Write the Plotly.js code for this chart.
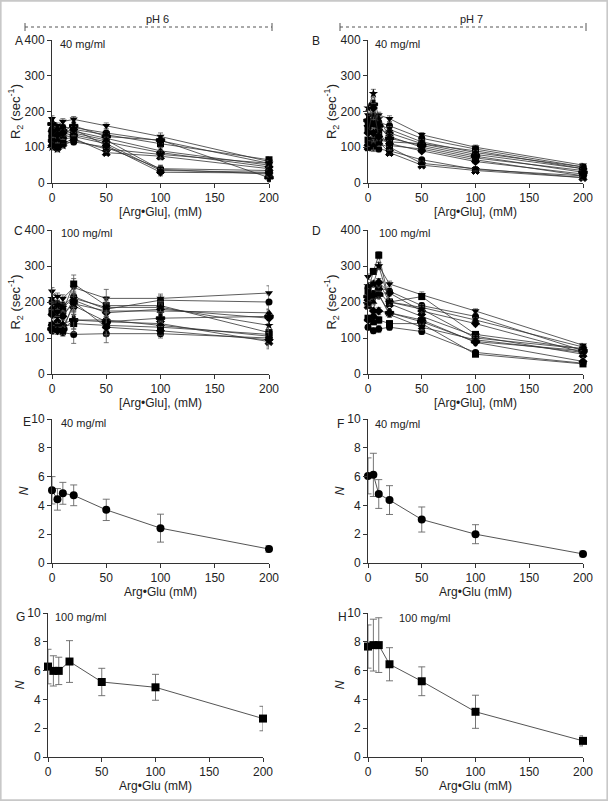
<!DOCTYPE html>
<html>
<head>
<meta charset="utf-8">
<script src="https://cdn.plot.ly/plotly-3.0.1.min.js"></script>
<style>html,body{margin:0;padding:0;background:#fff;}#chart{width:608px;height:801px;}</style>
</head>
<body>
<div id="chart"></div>
<script>
// ---------------- DATA ----------------
const conc = [0, 5, 10, 20, 50, 100, 200];
const xTicks = [0, 50, 100, 150, 200];
const r2Ticks = [0, 100, 200, 300, 400];
const nTicks = [0, 2, 4, 6, 8, 10];
const symbols = ['triangle-down','circle','square','triangle-up','diamond','x','star','cross','circle','square','triangle-up','diamond'];

// Panel A: pH 6, 40 mg/ml, R2 (sec^-1)
const seriesA = [
  [180, 160, 172, 178, 160, 130, 60],
  [150, 145, 155, 155, 140, 118, 55],
  [140, 130, 140, 150, 135, 110, 65],
  [130, 125, 135, 145, 125, 90, 50],
  [120, 115, 125, 135, 115, 85, 45],
  [110, 100, 110, 125, 85, 75, 40],
  [100, 95, 105, 120, 95, 80, 55],
  [165, 150, 145, 160, 130, 120, 15],
  [105, 100, 110, 115, 100, 40, 35],
  [125, 110, 120, 130, 110, 35, 30],
  [135, 120, 130, 140, 120, 38, 25],
  [145, 135, 140, 150, 105, 30, 28]
];
const errA = [8, 8, 8, 8, 8, 10, 8];

// Panel B: pH 7, 40 mg/ml
const seriesB = [
  [190, 185, 190, 180, 135, 100, 50],
  [170, 175, 170, 160, 125, 95, 45],
  [120, 120, 120, 115, 110, 90, 40],
  [180, 190, 165, 150, 115, 85, 45],
  [160, 140, 150, 140, 110, 80, 40],
  [100, 110, 115, 85, 50, 35, 15],
  [210, 250, 180, 130, 100, 70, 35],
  [175, 220, 160, 125, 105, 75, 30],
  [100, 100, 95, 90, 65, 38, 20],
  [150, 165, 140, 105, 95, 65, 20],
  [110, 105, 110, 100, 55, 40, 15],
  [140, 210, 130, 110, 90, 60, 25]
];
const errB = [8, 12, 8, 8, 6, 6, 5];

// Panel C: pH 6, 100 mg/ml
const seriesC = [
  [230, 215, 210, 240, 210, 210, 225],
  [200, 195, 190, 215, 180, 205, 200],
  [170, 180, 175, 250, 190, 190, 115],
  [185, 160, 165, 195, 175, 175, 170],
  [165, 175, 160, 205, 170, 180, 155],
  [130, 135, 130, 190, 145, 140, 90],
  [210, 190, 185, 210, 185, 185, 135],
  [125, 130, 125, 150, 145, 155, 160],
  [120, 125, 115, 110, 112, 112, 100],
  [135, 140, 130, 140, 135, 130, 110],
  [140, 150, 140, 150, 150, 135, 105],
  [125, 120, 120, 200, 130, 120, 95]
];
const errC = [10, 10, 10, 25, 25, 12, 20];

// Panel D: pH 7, 100 mg/ml
const seriesD = [
  [270, 285, 300, 250, 220, 175, 80],
  [240, 250, 240, 230, 190, 160, 65],
  [230, 285, 330, 200, 215, 110, 70],
  [210, 215, 255, 200, 185, 150, 75],
  [205, 175, 255, 225, 175, 140, 60],
  [190, 220, 230, 195, 160, 105, 55],
  [245, 250, 300, 200, 180, 100, 70],
  [215, 220, 220, 170, 145, 90, 65],
  [130, 120, 125, 130, 118, 60, 30],
  [155, 145, 150, 140, 140, 55, 28],
  [195, 200, 220, 165, 130, 95, 60],
  [150, 160, 175, 170, 150, 88, 35]
];
const errD = [8, 8, 10, 8, 8, 6, 5];

// Panels E-H: N
const nE = [5.05, 4.42, 4.84, 4.70, 3.69, 2.42, 0.97];
const nE_err = [0.95, 0.75, 0.76, 0.72, 0.74, 0.97, 0.23];
const nF = [6.05, 6.12, 4.79, 4.37, 3.02, 2.00, 0.63];
const nF_err = [1.25, 1.50, 1.00, 1.00, 0.87, 0.66, 0.20];
const nG = [6.28, 5.98, 5.98, 6.63, 5.21, 4.84, 2.67];
const nG_err = [1.20, 1.05, 0.95, 1.45, 0.95, 0.90, 0.85];
const nH = [7.67, 7.77, 7.77, 6.44, 5.26, 3.14, 1.12];
const nH_err = [1.50, 1.80, 1.90, 1.15, 1.00, 1.15, 0.35];

// ---------------- LAYOUT HELPERS ----------------
const W = 608, H = 801;
const px = v => v / W;
const py = v => 1 - v / H;
const FONT = 'Liberation Sans, Arial, sans-serif';
const TXT = '#222';

// panel boxes in pixels: [left, right, top, bottom]
const boxes = {
  A: [52, 269, 40, 183],
  B: [368, 583, 40, 183],
  C: [52, 269, 230, 374],
  D: [368, 583, 230, 374],
  E: [52, 269, 419, 563],
  F: [368, 583, 419, 563],
  G: [48, 263, 613, 757],
  H: [368, 583, 613, 757]
};
const order = ['A','B','C','D','E','F','G','H'];

const traces = [];
function r2Traces(series, err, idx) {
  const xa = idx === 1 ? 'x' : 'x' + idx;
  const ya = idx === 1 ? 'y' : 'y' + idx;
  series.forEach((vals, i) => {
    traces.push({
      x: conc, y: vals, xaxis: xa, yaxis: ya, type: 'scatter', mode: 'lines+markers',
      line: {color: '#333', width: 0.8},
      marker: {symbol: symbols[i], size: 7, color: '#000', line: {color: '#000', width: symbols[i]==='x'||symbols[i]==='cross' ? 1 : 0}},
      error_y: {type: 'data', array: err, visible: true, color: '#555', thickness: 0.8, width: 2.5},
      cliponaxis: false, showlegend: false, hoverinfo: 'x+y'
    });
  });
}
function nTrace(vals, err, idx, sym) {
  traces.push({
    x: conc, y: vals, xaxis: 'x' + idx, yaxis: 'y' + idx, type: 'scatter', mode: 'lines+markers',
    line: {color: '#555', width: 1},
    marker: {symbol: sym, size: 8, color: '#000'},
    error_y: {type: 'data', array: err, visible: true, color: '#666', thickness: 0.9, width: 3.5},
    cliponaxis: false, showlegend: false
  });
}
r2Traces(seriesA, errA, 1);
r2Traces(seriesB, errB, 2);
r2Traces(seriesC, errC, 3);
r2Traces(seriesD, errD, 4);
nTrace(nE, nE_err, 5, 'circle');
nTrace(nF, nF_err, 6, 'circle');
nTrace(nG, nG_err, 7, 'square');
nTrace(nH, nH_err, 8, 'square');

const layout = {
  width: W, height: H,
  margin: {l: 0, r: 0, t: 0, b: 0},
  paper_bgcolor: '#fff', plot_bgcolor: 'rgba(0,0,0,0)',
  font: {family: FONT, size: 12, color: TXT},
  showlegend: false,
  annotations: [], shapes: []
};

const xTitles = {A:'[Arg•Glu], (mM)', B:'[Arg•Glu], (mM)', C:'[Arg•Glu], (mM)', D:'[Arg•Glu], (mM)',
  E:'Arg•Glu (mM)', F:'Arg•Glu (mM)', G:'Arg•Glu (mM)', H:'Arg•Glu (mM)'};

order.forEach((k, i) => {
  const idx = i + 1;
  const b = boxes[k];
  const isR2 = i < 4;
  const xName = idx === 1 ? 'xaxis' : 'xaxis' + idx;
  const yName = idx === 1 ? 'yaxis' : 'yaxis' + idx;
  const yAnchor = idx === 1 ? 'y' : 'y' + idx;
  const xAnchor = idx === 1 ? 'x' : 'x' + idx;
  layout[xName] = {
    domain: [px(b[0]), px(b[1])], anchor: yAnchor,
    range: [0, 200], tickvals: xTicks, ticktext: xTicks.map(String),
    showline: true, linecolor: '#333', linewidth: 1, ticks: 'outside', ticklen: 4, tickwidth: 1, tickcolor: '#333',
    showgrid: false, zeroline: false, tickfont: {size: 12, color: TXT},
    title: {text: xTitles[k], font: {size: 12, color: TXT}, standoff: 0}
  };
  layout[yName] = {
    domain: [py(b[3]), py(b[2])], anchor: xAnchor,
    range: isR2 ? [0, 400] : [0, 10], tickvals: isR2 ? r2Ticks : nTicks,
    showline: true, linecolor: '#333', linewidth: 1, ticks: 'outside', ticklen: 4, tickwidth: 1, tickcolor: '#333',
    showgrid: false, zeroline: false, tickfont: {size: 12, color: TXT},
    title: {text: isR2 ? 'R<sub>2</sub> (sec<sup>-1</sup>)' : '<i>N</i>', font: {size: isR2 ? 13 : 12, color: TXT}, standoff: 0}
  };
});

// panel letters and concentration labels
const letters = [
  ['A', 19, 41], ['B', 316, 41], ['C', 18, 231], ['D', 316, 231],
  ['E', 27, 422], ['F', 340, 424], ['G', 20, 617], ['H', 342, 617]
];
letters.forEach(([t, x, y]) => layout.annotations.push({
  text: t, x: px(x), y: py(y), xref: 'paper', yref: 'paper', showarrow: false,
  xanchor: 'center', yanchor: 'middle', font: {size: 12, color: TXT}
}));
const concLabels = [
  ['40 mg/ml', 58, 44], ['40 mg/ml', 373, 44], ['100 mg/ml', 59, 233], ['100 mg/ml', 377, 233],
  ['40 mg/ml', 59, 423], ['40 mg/ml', 373, 424], ['100 mg/ml', 53, 617], ['100 mg/ml', 397, 618]
];
concLabels.forEach(([t, x, y]) => layout.annotations.push({
  text: t, x: px(x), y: py(y), xref: 'paper', yref: 'paper', showarrow: false,
  xanchor: 'left', yanchor: 'middle', font: {size: 11, color: TXT}
}));

// pH headers
const headers = [['pH 6', 25, 272, 157], ['pH 7', 340, 586, 471]];
headers.forEach(([t, x0, x1, xc]) => {
  layout.shapes.push({type: 'line', xref: 'paper', yref: 'paper', x0: px(x0), x1: px(x1), y0: py(27), y1: py(27),
    line: {color: '#555', width: 1, dash: 'dot'}});
  layout.shapes.push({type: 'line', xref: 'paper', yref: 'paper', x0: px(x0), x1: px(x0), y0: py(23), y1: py(31),
    line: {color: '#555', width: 1}});
  layout.shapes.push({type: 'line', xref: 'paper', yref: 'paper', x0: px(x1), x1: px(x1), y0: py(23), y1: py(31),
    line: {color: '#555', width: 1}});
  layout.annotations.push({text: t, x: px(xc), y: py(19), xref: 'paper', yref: 'paper', showarrow: false,
    xanchor: 'center', yanchor: 'middle', font: {size: 11, color: TXT}});
});

// light frame around figure
layout.shapes.push({type: 'rect', xref: 'paper', yref: 'paper', x0: 0.001, x1: 0.999, y0: 0.001, y1: 0.999,
  line: {color: '#c8c8c8', width: 2}});

Plotly.newPlot('chart', traces, layout, {displayModeBar: false, staticPlot: true});
</script>
</body>
</html>
